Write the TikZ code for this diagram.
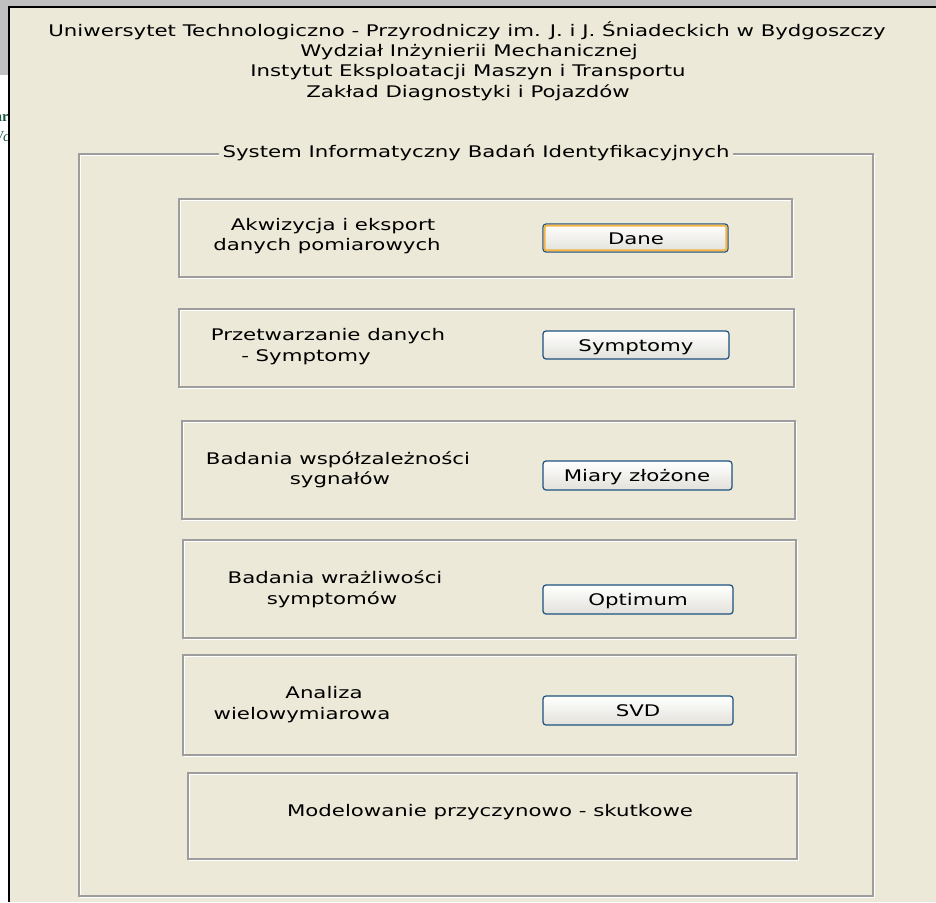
\documentclass[tikz,border=0pt]{standalone}
\usepackage{fontspec}
\newfontfamily\uif{DejaVu Sans}[FakeStretch=1.33]
\newfontfamily\frag{Liberation Serif}
\definecolor{bg}{HTML}{ECE9D8}
\definecolor{topgray}{HTML}{C0C0C0}
\definecolor{etchgray}{HTML}{9D9D9D}
\definecolor{btnblue}{HTML}{1C5180}
\definecolor{btnbot}{HTML}{E2E1DA}
\definecolor{focus}{HTML}{F5B544}
\definecolor{fraggreen}{HTML}{1E5A40}
\tikzset{
  etched/.style={draw=etchgray, line width=1.2pt, inner sep=0pt,
    preaction={draw=white, line width=1.2pt, transform canvas={shift={(1.2pt,-1.2pt)}}}},
  btn/.style={draw=btnblue, line width=1.2pt, rounded corners=3pt,
    top color=white, bottom color=btnbot, inner sep=0pt},
  lbl/.style={inner sep=0pt, anchor=base, text=black,
    font=\uif\fontsize{16}{19}\selectfont},
}
\begin{document}
\begin{tikzpicture}[x=1pt,y=-1pt]
\useasboundingbox (0,0) rectangle (936,902);
\fill[bg] (0,0) rectangle (936,902);
\fill[white] (0,75) rectangle (9,902);
\fill[topgray] (0,0) rectangle (936,7);
\fill[topgray] (0,0) rectangle (9,75);
\begin{scope}
  \clip (0,100) rectangle (8.5,150);
  \node[inner sep=0pt, anchor=base east, text=fraggreen, font=\frag\bfseries\fontsize{15}{18}\selectfont] (f1) at (9,121) {ar};
  \node[inner sep=0pt, anchor=base east, text=fraggreen, font=\frag\itshape\fontsize{15}{18}\selectfont] (f2) at (10,141) {Wc};
\end{scope}
\draw[black, line width=2pt] (9.3,902) -- (9.3,7) -- (936,7);

% title
\node[lbl] (t1) at (467,36) {Uniwersytet Technologiczno - Przyrodniczy im. J. i J. Śniadeckich w Bydgoszczy};
\node[lbl] (t2) at (469,56) {Wydział Inżynierii Mechanicznej};
\node[lbl] (t3) at (468,76) {Instytut Eksploatacji Maszyn i Transportu};
\node[lbl] (t4) at (468,97) {Zakład Diagnostyki i Pojazdów};

% group box
\node[etched, minimum width=794pt, minimum height=742pt] (grp) at (476,525) {};
\node[lbl, fill=bg, inner xsep=4pt, inner ysep=3pt] (gt) at (476,157) {System Informatyczny Badań Identyfikacyjnych};

% inner boxes
\node[etched, minimum width=613pt, minimum height=78pt] (b1) at (485.5,238) {};
\node[etched, minimum width=615pt, minimum height=78pt] (b2) at (486.5,348) {};
\node[etched, minimum width=613pt, minimum height=98pt] (b3) at (488.5,470) {};
\node[etched, minimum width=613pt, minimum height=98pt] (b4) at (489.5,589) {};
\node[etched, minimum width=613pt, minimum height=100pt] (b5) at (489.5,705) {};
\node[etched, minimum width=609pt, minimum height=86pt] (b6) at (492.5,816) {};

% labels
\node[lbl] (l1a) at (333,230) {Akwizycja i eksport};
\node[lbl] (l1b) at (327,250) {danych pomiarowych};
\node[lbl] (l2a) at (328,340) {Przetwarzanie danych};
\node[lbl] (l2b) at (306,361) {- Symptomy};
\node[lbl] (l3a) at (338,464) {Badania współzależności};
\node[lbl] (l3b) at (340,484) {sygnałów};
\node[lbl] (l4a) at (335,583) {Badania wrażliwości};
\node[lbl] (l4b) at (332,604) {symptomów};
\node[lbl] (l5a) at (324,698) {Analiza};
\node[lbl] (l5b) at (302,719) {wielowymiarowa};
\node[lbl] (l6) at (490,816) {Modelowanie przyczynowo - skutkowe};

% buttons
\node[btn, minimum width=185pt, minimum height=28pt] (k1) at (635.5,238) {};
\draw[focus, line width=2pt, rounded corners=2pt]
  ([shift={(2.2pt,-2.2pt)}]k1.north west) rectangle ([shift={(-2.2pt,2.2pt)}]k1.south east);
\node[lbl] (k1t) at (636,244) {Dane};
\node[btn, minimum width=186pt, minimum height=28pt] (k2) at (636,345) {};
\node[lbl] (k2t) at (636,351) {Symptomy};
\node[btn, minimum width=189pt, minimum height=29pt] (k3) at (637.5,475.5) {};
\node[lbl] (k3t) at (637,481) {Miary złożone};
\node[btn, minimum width=190pt, minimum height=29pt] (k4) at (638,599.5) {};
\node[lbl] (k4t) at (638,605) {Optimum};
\node[btn, minimum width=190pt, minimum height=29pt] (k5) at (638,710.5) {};
\node[lbl] (k5t) at (638,716) {SVD};
\end{tikzpicture}
\end{document}
